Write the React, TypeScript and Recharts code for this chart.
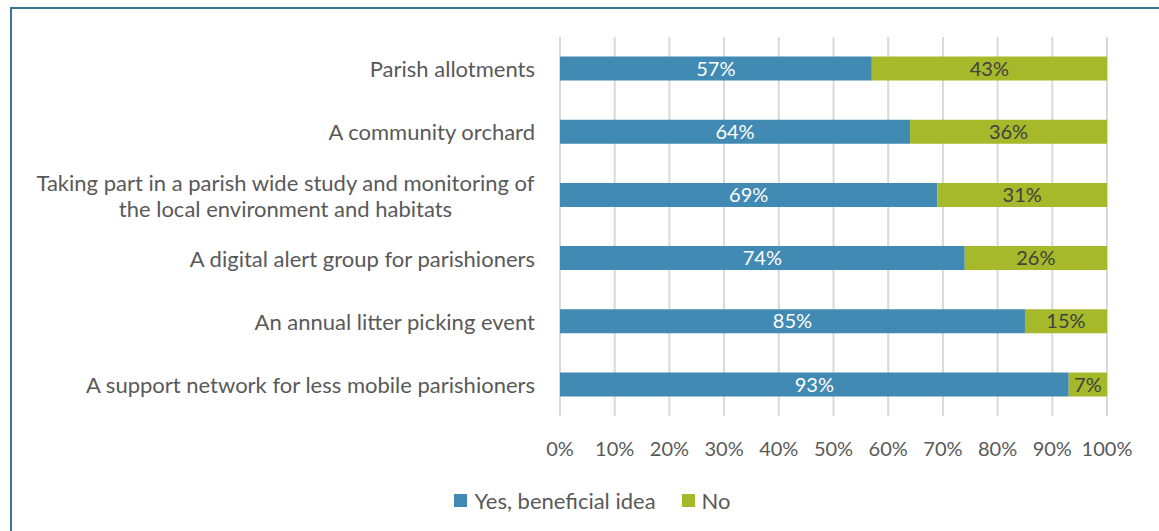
import React from 'react';
import {
  BarChart,
  Bar,
  XAxis,
  YAxis,
  CartesianGrid,
  Legend,
  LabelList,
} from 'recharts';

const CATEGORIES = [
  'Parish allotments',
  'A community orchard',
  'Taking part in a parish wide study and monitoring of the local environment and habitats',
  'A digital alert group for parishioners',
  'An annual litter picking event',
  'A support network for less mobile parishioners',
];
const YES_VALUES = [57, 64, 69, 74, 85, 93];
const NO_VALUES = [43, 36, 31, 26, 15, 7];
const X_TICKS = [0, 10, 20, 30, 40, 50, 60, 70, 80, 90, 100];

const SERIES = [
  { key: 'yes', name: 'Yes, beneficial idea', color: '#418AB3', labelColor: '#ffffff' },
  { key: 'no', name: 'No', color: '#A5B92A', labelColor: '#404040' },
];

const FONT = 'Lato, "Open Sans", sans-serif';
const TEXT = '#595959';
const CAT_SIZE = 22;

const data = CATEGORIES.map((name, i) => ({ name, yes: YES_VALUES[i], no: NO_VALUES[i] }));

// crude word wrap, the long category splits on two lines
const wrap = (s: string, max = 52) => {
  const words = s.split(' ');
  const lines: string[] = [];
  let cur = '';
  words.forEach((w) => {
    const next = cur ? cur + ' ' + w : w;
    if (next.length > max && cur) {
      lines.push(cur);
      cur = w;
    } else cur = next;
  });
  if (cur) lines.push(cur);
  return lines;
};

let ctx: CanvasRenderingContext2D | null = null;
const measure = (s: string) => {
  if (!ctx) ctx = document.createElement('canvas').getContext('2d');
  if (!ctx) return s.length * 10;
  ctx.font = `${CAT_SIZE}px Lato`;
  return ctx.measureText(s).width;
};

const CategoryTick = (props: any) => {
  const { x, y, payload } = props;
  const lines = wrap(payload.value);
  const lh = 26;
  const start = y - ((lines.length - 1) * lh) / 2;
  if (lines.length === 1) {
    return (
      <text x={x} y={y} textAnchor="end" fill={TEXT} fontSize={CAT_SIZE} fontFamily={FONT} dominantBaseline="central">
        {lines[0]}
      </text>
    );
  }
  // multi-line labels: each line centred inside the block, block right aligned
  const w = Math.max(...lines.map(measure));
  const cx = x - w / 2;
  return (
    <text fill={TEXT} fontSize={CAT_SIZE} fontFamily={FONT} textAnchor="middle" dominantBaseline="central">
      {lines.map((l, i) => (
        <tspan key={i} x={cx} y={start + i * lh}>
          {l}
        </tspan>
      ))}
    </text>
  );
};

const LegendContent = () => (
  <div style={{ display: 'flex', justifyContent: 'center', gap: 26, fontFamily: FONT, fontSize: 22, color: TEXT, paddingLeft: 78, height: 30, alignItems: 'center' }}>
    {SERIES.map((s) => (
      <div key={s.key} style={{ display: 'flex', alignItems: 'center' }}>
        <span style={{ width: 13, height: 13, background: s.color, display: 'inline-block', marginRight: 7 }} />
        {s.name}
      </div>
    ))}
  </div>
);

export default function App() {
  return (
    <div style={{ position: 'absolute', left: 0, top: 0, width: 1159, height: 531, background: '#fff', overflow: 'hidden' }}>
      <div style={{ position: 'absolute', left: 10, top: 7, width: 1200, height: 600, border: '2px solid #3F7191', boxSizing: 'border-box' }} />
      <div style={{ position: 'absolute', left: 0, top: 0 }}>
        <BarChart
          width={1159}
          height={531}
          data={data}
          layout="vertical"
          margin={{ top: 37, right: 52, bottom: 16, left: 0 }}
          barCategoryGap="31%"
        >
          <CartesianGrid horizontal={false} stroke="#D9D9D9" strokeWidth={2} />
          <XAxis
            type="number"
            domain={[0, 100]}
            ticks={X_TICKS}
            tickFormatter={(v) => `${v}%`}
            axisLine={false}
            tickLine={false}
            tickMargin={20}
            height={69}
            tick={{ fill: TEXT, fontSize: 20, fontFamily: FONT }}
            interval={0}
          />
          <YAxis
            type="category"
            dataKey="name"
            width={560}
            axisLine={false}
            tickLine={false}
            tickMargin={19}
            tick={<CategoryTick />}
            interval={0}
          />
          <Legend verticalAlign="bottom" content={<LegendContent />} wrapperStyle={{ bottom: 16, height: 30 }} />
          {SERIES.map((s) => (
            <Bar key={s.key} dataKey={s.key} name={s.name} stackId="a" fill={s.color} isAnimationActive={false}>
              <LabelList
                dataKey={s.key}
                position="center"
                formatter={(v: any) => `${v}%`}
                fill={s.labelColor}
                fontSize={20}
                fontFamily={FONT}
              />
            </Bar>
          ))}
        </BarChart>
      </div>
    </div>
  );
}
